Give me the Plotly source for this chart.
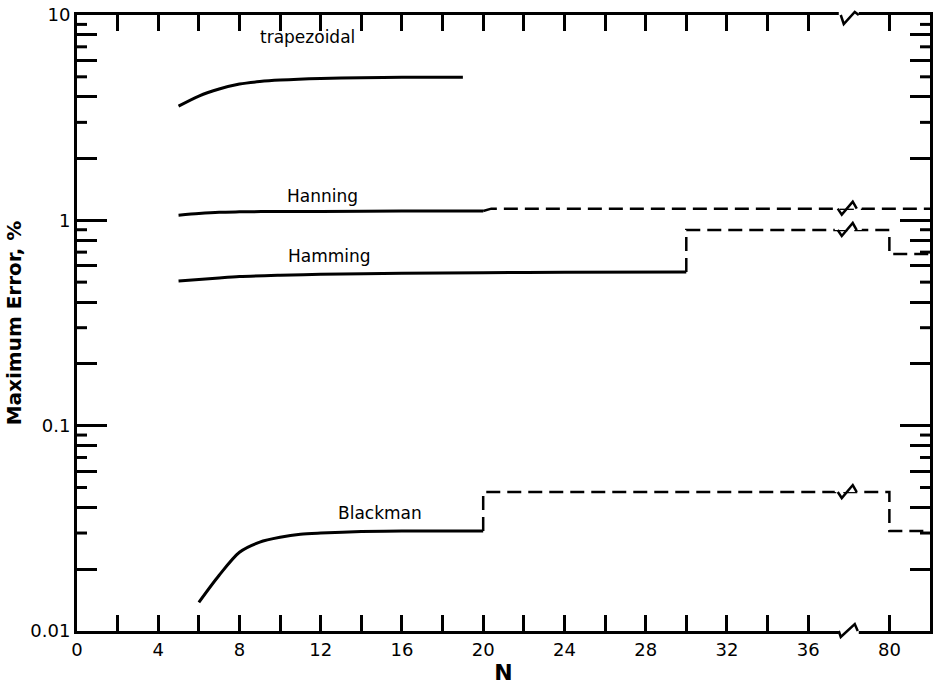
import numpy as np
import plotly.graph_objects as go

# ---------------- data ----------------
trap_N = [5, 6, 7, 8, 9, 10, 12, 14, 16, 19]
trap_err = [3.6, 4.03, 4.36, 4.61, 4.74, 4.82, 4.91, 4.95, 4.97, 4.98]

hann_solid_N = [5, 6, 7, 8, 10, 12, 16, 20]
hann_solid_err = [1.06, 1.08, 1.095, 1.10, 1.105, 1.105, 1.11, 1.11]
hann_dash_N = [20, 20.4, 82]
hann_dash_err = [1.11, 1.14, 1.14]

hamm_solid_N = [5, 6, 7, 8, 10, 12, 16, 20, 24, 30]
hamm_solid_err = [0.506, 0.515, 0.524, 0.532, 0.54, 0.546, 0.552, 0.556, 0.558, 0.56]
hamm_dash_N = [30, 30, 80, 80, 82]
hamm_dash_err = [0.56, 0.897, 0.897, 0.685, 0.685]

black_solid_N = [6, 7, 8, 9, 10, 11, 12, 14, 16, 20]
black_solid_err = [0.0138, 0.0187, 0.0242, 0.0271, 0.0286, 0.0296, 0.0300, 0.0305, 0.0307, 0.0307]
black_dash_N = [20, 20, 80, 80, 82]
black_dash_err = [0.0307, 0.0475, 0.0475, 0.0307, 0.0307]

labels = ["trapezoidal", "Hanning", "Hamming", "Blackman"]
label_N = [11.33, 12.07, 12.41, 14.92]
label_err = [7.8, 1.31, 0.67, 0.0375]

x_major = [0, 4, 8, 12, 16, 20, 24, 28, 32, 36, 80]
x_minor = [2, 6, 10, 14, 18, 22, 26, 30, 34]
y_major = [0.01, 0.1, 1, 10]
y_major_text = ["0.01", "0.1", "1", "10"]
decades = [0.01, 0.1, 1]
y_minor_long = [d * m for d in decades for m in (2, 4, 6, 8)]
y_minor_short = [d * m for d in decades for m in (3, 5, 7, 9)]

BREAK_AT = 38      # axis position of the break
BREAK_SHIFT = 40   # N values beyond the break are shifted by this amount
X_MAX_N = 82


def xpos(n):
    return n if n <= BREAK_AT else n - BREAK_SHIFT


def xp(arr):
    return [xpos(v) for v in arr]


FONT = "DejaVu Sans"
fig = go.Figure()

solid = dict(color="black", width=3)
dashed = dict(color="black", width=2.5, dash="14px,7px")

fig.add_trace(go.Scatter(x=xp(trap_N), y=trap_err, mode="lines",
                         line=dict(**solid, shape="spline", smoothing=0.8)))
fig.add_trace(go.Scatter(x=xp(hann_solid_N), y=hann_solid_err, mode="lines",
                         line=dict(**solid, shape="spline", smoothing=0.8)))
fig.add_trace(go.Scatter(x=xp(hann_dash_N), y=hann_dash_err, mode="lines", line=dashed))
fig.add_trace(go.Scatter(x=xp(hamm_solid_N), y=hamm_solid_err, mode="lines",
                         line=dict(**solid, shape="spline", smoothing=0.8)))
fig.add_trace(go.Scatter(x=xp(hamm_dash_N), y=hamm_dash_err, mode="lines", line=dashed))
fig.add_trace(go.Scatter(x=xp(black_solid_N), y=black_solid_err, mode="lines",
                         line=dict(**solid, shape="spline", smoothing=0.8)))
fig.add_trace(go.Scatter(x=xp(black_dash_N), y=black_dash_err, mode="lines", line=dashed))

shapes = []
# short minor ticks on left and right y axes
x_right = xpos(X_MAX_N)
for v in y_minor_short:
    shapes.append(dict(type="line", xref="x", yref="y", xsizemode="pixel", xanchor=0,
                       x0=0, x1=10, y0=v, y1=v, line=dict(color="black", width=3)))
    shapes.append(dict(type="line", xref="x", yref="y", xsizemode="pixel", xanchor=x_right,
                       x0=-10, x1=0, y0=v, y1=v, line=dict(color="black", width=3)))

# axis breaks (top and bottom) -- paper-referenced so they are not clipped
bx = BREAK_AT / x_right
for ya, zig in ((0, "M -10,0 L -8,-6 L 6,7 L 9,0"), (1, "M -8,0 L -5,-9 L 6,3 L 10,0")):
    shapes.append(dict(type="rect", xref="paper", yref="paper", xsizemode="pixel",
                       ysizemode="pixel", xanchor=bx, yanchor=ya, x0=-10, x1=10, y0=-3, y1=3,
                       fillcolor="white", line=dict(width=0)))
    shapes.append(dict(type="path", xref="paper", yref="paper", xsizemode="pixel",
                       ysizemode="pixel", xanchor=bx, yanchor=ya, path=zig,
                       line=dict(color="black", width=2.5)))

# breaks on the dashed curves
ZIG = "M -11,0 L -7,-6 L 4,7 L 8,0"
for ya in (hann_dash_err[-1], hamm_dash_err[1], black_dash_err[1]):
    shapes.append(dict(type="rect", xref="x", yref="y", xsizemode="pixel", ysizemode="pixel",
                       xanchor=BREAK_AT, yanchor=ya, x0=-14, x1=13, y0=-4, y1=4,
                       fillcolor="white", line=dict(width=0)))
    shapes.append(dict(type="path", xref="x", yref="y", xsizemode="pixel", ysizemode="pixel",
                       xanchor=BREAK_AT, yanchor=ya, path=ZIG,
                       line=dict(color="black", width=2.5)))

annotations = []
for t, n, e in zip(labels, label_N, label_err):
    annotations.append(dict(x=xpos(n), y=np.log10(e), xref="x", yref="y", text=t,
                            showarrow=False, font=dict(family=FONT, size=17, color="black")))

fig.update_layout(
    width=935, height=687,
    margin=dict(l=77, r=2, t=15, b=56),
    paper_bgcolor="white", plot_bgcolor="white",
    showlegend=False,
    shapes=shapes, annotations=annotations,
    font=dict(family=FONT, color="black"),
)

fig.update_xaxes(
    range=[0, x_right], showgrid=False, zeroline=False,
    showline=True, linewidth=3, linecolor="black", mirror="ticks",
    ticks="inside", ticklen=16, tickwidth=2.5, tickcolor="black",
    tickvals=xp(x_major), ticktext=[str(v) for v in x_major],
    tickfont=dict(family=FONT, size=18, color="black"),
    minor=dict(tickvals=xp(x_minor), ticks="inside", ticklen=16, tickwidth=2.5, tickcolor="black"),
    title=dict(text="<b>N</b>", font=dict(family=FONT, size=22, color="black"), standoff=6),
)
fig.update_yaxes(
    type="log", range=[-2, 1], showgrid=False, zeroline=False,
    showline=True, linewidth=3, linecolor="black", mirror="ticks",
    ticks="inside", ticklen=30, tickwidth=3, tickcolor="black",
    tickvals=y_major, ticktext=y_major_text,
    tickfont=dict(family=FONT, size=18, color="black"),
    minor=dict(tickvals=y_minor_long, ticks="inside", ticklen=20, tickwidth=3, tickcolor="black"),
    title=dict(text="<b>Maximum Error, %</b>", font=dict(family=FONT, size=20, color="black"),
               standoff=4),
)

fig.write_html("out.html")
